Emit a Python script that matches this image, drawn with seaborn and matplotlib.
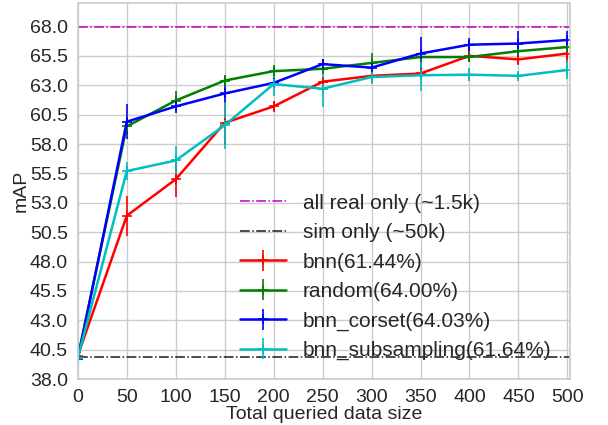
import numpy as np
import matplotlib
matplotlib.use("Agg")
import matplotlib.pyplot as plt
import seaborn as sns

sns.set_theme(style="whitegrid")
plt.rcParams['font.family'] = ['Liberation Sans', 'DejaVu Sans']

# Dados
sizes = [0, 50, 100, 150, 200, 250, 300, 350, 400, 450, 500]

bnn = [40.0, 51.9, 55.0, 59.8, 61.2, 63.3, 63.8, 64.0, 65.5, 65.2, 65.7]
bnn_err = [0.2, 1.7, 1.5, 1.9, 0.5, 0.3, 0.3, 0.2, 0.55, 0.45, 0.8]

random_ = [39.9, 59.5, 61.7, 63.4, 64.2, 64.4, 64.9, 65.4, 65.4, 65.9, 66.25]
random_err = [0.2, 0.65, 0.8, 0.5, 0.55, 0.3, 0.85, 0.3, 0.3, 0.4, 0.4]

corset = [39.7, 59.9, 61.2, 62.3, 63.2, 64.8, 64.5, 65.7, 66.45, 66.55, 66.85]
corset_err = [0.2, 1.5, 0.6, 0.8, 0.3, 0.45, 0.55, 1.4, 0.6, 1.1, 0.8]

subsamp = [39.8, 55.7, 56.6, 59.6, 63.1, 62.7, 63.7, 63.85, 63.9, 63.8, 64.3]
subsamp_err = [0.2, 0.75, 1.2, 2.0, 1.05, 1.55, 0.6, 1.3, 0.55, 0.3, 0.8]

all_real = 67.95
sim_only = 39.9

series = [
    ('bnn(61.44%)', bnn, bnn_err, '#ff0000'),
    ('random(64.00%)', random_, random_err, '#008000'),
    ('bnn_corset(64.03%)', corset, corset_err, '#0000ff'),
    ('bnn_subsampling(61.64%)', subsamp, subsamp_err, '#00bfbf'),
]

# Plot
fig = plt.figure(figsize=(6.08, 4.25), dpi=100)
ax = fig.add_axes([0.128, 0.108, 0.81, 0.885])

ax.axhline(all_real, color='#bf00bf', linestyle='-.', linewidth=1.1, label='all real only (~1.5k)')
ax.axhline(sim_only, color='k', linestyle='-.', linewidth=1.1, label='sim only (~50k)')

for label, vals, err, color in series:
    ax.errorbar(sizes, vals, yerr=err, color=color, marker='+', markersize=7,
                markeredgewidth=1.2, linewidth=1.8, elinewidth=1.2, capsize=0, label=label)

ax.set_xlim(0, 503)
ax.set_ylim(38, 70)
ax.set_xticks(np.arange(0, 501, 50))
ax.set_yticks(np.arange(38, 69, 2.5))
ax.set_yticklabels(['%.1f' % v for v in np.arange(38, 69, 2.5)])
ax.tick_params(labelsize=14, pad=1)
for s in ax.spines.values():
    s.set_color('0.8')

ax.set_xlabel('Total queried data size', fontsize=14, labelpad=0)
ax.set_ylabel('mAP', fontsize=14, labelpad=0)
ax.legend(loc='lower right', frameon=False, fontsize=15, handlelength=2.2, labelspacing=0.5)

fig.savefig('out.png', dpi=100)
